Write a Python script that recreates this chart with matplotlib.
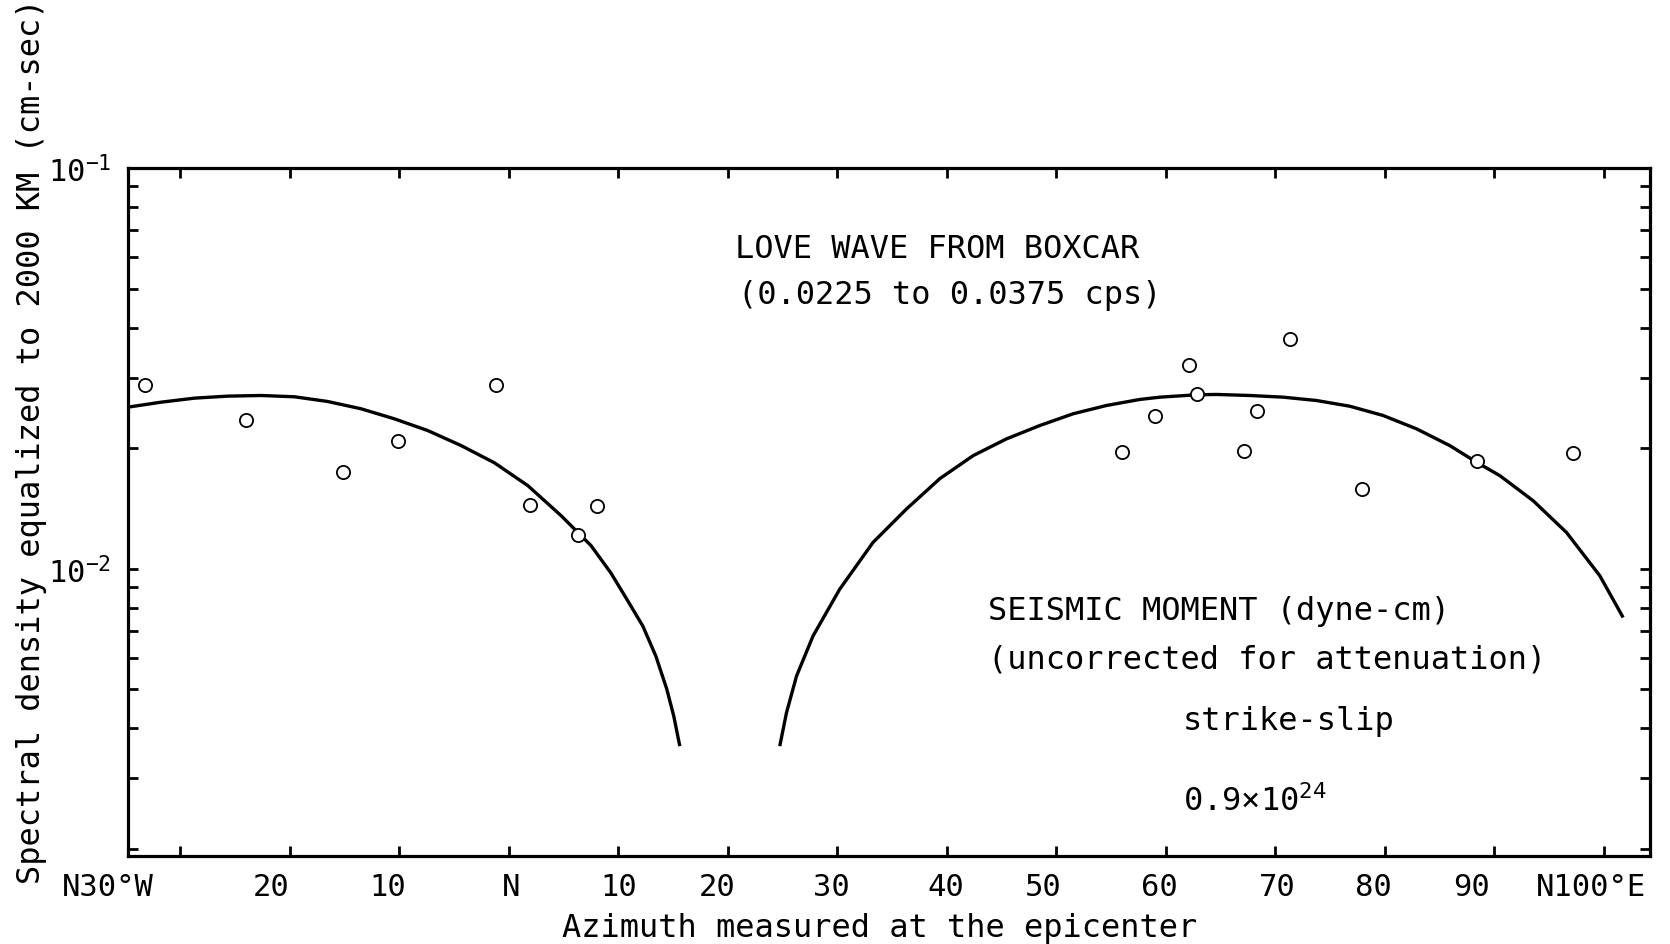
import matplotlib
matplotlib.use("Agg")
import matplotlib.pyplot as plt
import matplotlib.transforms as mtransforms
from matplotlib.ticker import LogLocator, NullFormatter

# observed spectral densities (azimuth in degrees, west negative)
obs_az = [-33.2, -24.0, -15.2, -10.1, -1.2, 1.9, 6.3, 8.0,
          56.0, 59.0, 62.1, 62.8, 67.1, 68.3, 71.3, 77.9, 88.4, 97.2]
obs_amp = [0.0287, 0.0235, 0.0174, 0.0208, 0.0287, 0.01445, 0.01217, 0.01437,
           0.01956, 0.0240, 0.0322, 0.0273, 0.01965, 0.0248, 0.0375, 0.01585,
           0.01857, 0.0195]

# theoretical radiation pattern, two lobes
west_az = [-34.82, -31.77, -28.72, -25.68, -22.64, -19.59, -16.55, -13.51,
           -10.46, -7.42, -4.37, -1.32, 1.72, 4.76, 7.50, 9.30, 10.85, 12.22,
           13.41, 14.41, 15.05, 15.60]
west_amp = [0.02531, 0.02605, 0.02666, 0.02697, 0.02707, 0.02687, 0.02615,
            0.02508, 0.02367, 0.02213, 0.02030, 0.01838, 0.01613, 0.01357,
            0.01142, 0.00977, 0.00832, 0.00720, 0.00606, 0.00501, 0.00429,
            0.00361]
east_az = [24.73, 25.34, 26.26, 27.77, 30.21, 33.25, 36.30, 39.35, 42.39,
           45.44, 48.48, 51.52, 54.57, 57.61, 59.44, 62.79, 64.62, 67.66,
           70.70, 73.75, 76.79, 79.83, 82.88, 85.92, 88.36, 90.49, 93.53,
           96.58, 99.62, 101.75]
east_amp = [0.00361, 0.00437, 0.00540, 0.00680, 0.00890, 0.01164, 0.01410,
            0.01679, 0.01916, 0.02110, 0.02278, 0.02437, 0.02556, 0.02646,
            0.02681, 0.02718, 0.02723, 0.02707, 0.02681, 0.02630, 0.02545,
            0.02413, 0.02235, 0.02030, 0.01845, 0.01708, 0.01479, 0.01232,
            0.00961, 0.00756]

tick_az = [-30, -20, -10, 0, 10, 20, 30, 40, 50, 60, 70, 80, 90, 100]
label_az = [-36.6, -21.7, -11.1, 0.2, 10.0, 19.0, 29.4, 39.9, 48.8, 59.4,
            70.2, 78.9, 87.9, 98.8]
label_txt = ["N30°W", "20", "10", "N", "10", "20", "30", "40", "50", "60",
             "70", "80", "90", "N100°E"]

plt.rcParams["font.family"] = ["DejaVu Sans Mono", "DejaVu Sans"]
plt.rcParams["mathtext.default"] = "regular"

fig = plt.figure(figsize=(16.7, 9.45), dpi=100)
ax = fig.add_axes([0.0766, 0.0931, 0.9114, 0.7280])

ax.plot(west_az, west_amp, color="black", lw=2.4, solid_capstyle="butt",
        solid_joinstyle="round")
ax.plot(east_az, east_amp, color="black", lw=2.4, solid_capstyle="butt",
        solid_joinstyle="round")
ax.plot(obs_az, obs_amp, "o", ms=9.5, mfc="white", mec="black", mew=1.3,
        zorder=5)

ax.set_yscale("log")
ax.set_xlim(-34.8, 104.2)
ax.set_ylim(1.92e-3, 1e-1)

ax.set_xticks(tick_az)
ax.tick_params(axis="x", labelbottom=False)
ax.set_yticks([1e-2, 1e-1])
ax.set_yticklabels(["10$^{-2}$", "10$^{-1}$"])
ax.yaxis.set_minor_locator(LogLocator(base=10, subs=range(2, 10)))
ax.yaxis.set_minor_formatter(NullFormatter())
ax.tick_params(which="both", direction="in", top=True, right=True,
               length=7, width=2)
ax.tick_params(axis="y", labelsize=22, pad=12)
for sp in ax.spines.values():
    sp.set_linewidth(2.3)

trans = mtransforms.blended_transform_factory(ax.transData, ax.transAxes)
for az, txt in zip(label_az, label_txt):
    ax.text(az, -0.057, txt, transform=trans, ha="center", va="baseline",
            fontsize=22, clip_on=False)

fig.text(0.527, 0.0085, "Azimuth measured at the epicenter", ha="center",
         va="baseline", fontsize=23)
fig.text(0.019, 0.533, "Spectral density equalized to 2000 KM (cm-sec)",
         rotation=90, ha="center", va="center", fontsize=23)

fig.text(0.4401, 0.7270, "LOVE WAVE FROM BOXCAR", fontsize=23, va="baseline")
fig.text(0.4419, 0.6788, "(0.0225 to 0.0375 cps)", fontsize=23, va="baseline")
fig.text(0.5916, 0.3439, "SEISMIC MOMENT (dyne-cm)", fontsize=23, va="baseline")
fig.text(0.5916, 0.2931, "(uncorrected for attenuation)", fontsize=23,
         va="baseline")
fig.text(0.7084, 0.2275, "strike-slip", fontsize=23, va="baseline")
fig.text(0.7084, 0.1418, "0.9×10$^{24}$", fontsize=23, va="baseline")

fig.savefig("out.png", dpi=100)
